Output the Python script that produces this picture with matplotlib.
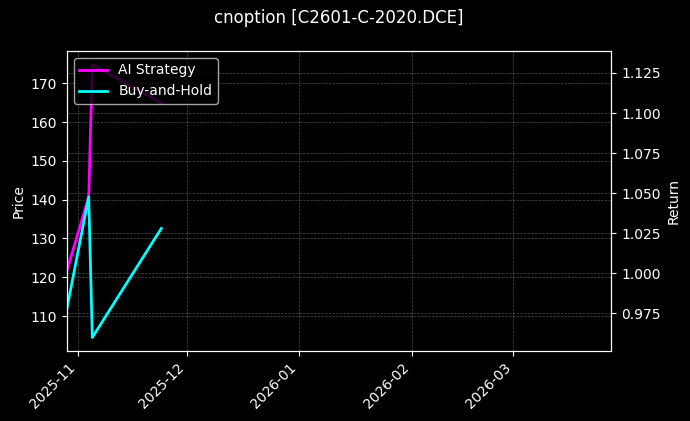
import pandas as pd
import matplotlib
matplotlib.use("Agg")
import matplotlib.pyplot as plt
import matplotlib.dates as mdates

plt.style.use("dark_background")

title = "cnoption [C2601-C-2020.DCE]"
dates = pd.to_datetime(["2025-10-29", "2025-11-04", "2025-11-05", "2025-11-24"])
ai_strategy = [1.0017, 1.0477, 1.1302, 1.1062]
buy_hold = [0.978, 1.0477, 0.960, 1.028]

# axis ranges (the price series itself is not visible)
date_range = pd.to_datetime(["2025-10-29", "2026-03-28"])
price_range = (100.97, 178.33)

fig, ax1 = plt.subplots(figsize=(6.9, 4.21), dpi=100)
fig.subplots_adjust(left=0.097, right=0.886, bottom=0.166, top=0.879)

ax1.set_ylabel("Price")
ax1.set_ylim(*price_range)
ax1.set_yticks([110, 120, 130, 140, 150, 160, 170])
ax1.grid(True, linestyle="--", linewidth=0.5, alpha=0.3)

ax2 = ax1.twinx()
ax2.plot(dates, ai_strategy, color="#ff00ff", linewidth=2, label="AI Strategy")
ax2.plot(dates, buy_hold, color="#00ffff", linewidth=2, label="Buy-and-Hold")
ax2.set_ylabel("Return")
ax2.grid(True, linestyle="--", linewidth=0.5, alpha=0.3)
ax2.legend(loc="upper left")

ax1.set_xlim(date_range[0], date_range[1])
ax1.xaxis.set_major_locator(mdates.MonthLocator())
ax1.xaxis.set_major_formatter(mdates.DateFormatter("%Y-%m"))
plt.setp(ax1.get_xticklabels(), rotation=45, ha="right")

ax1.set_title(title, fontsize=12, pad=20)

fig.savefig("out.png", dpi=100)
